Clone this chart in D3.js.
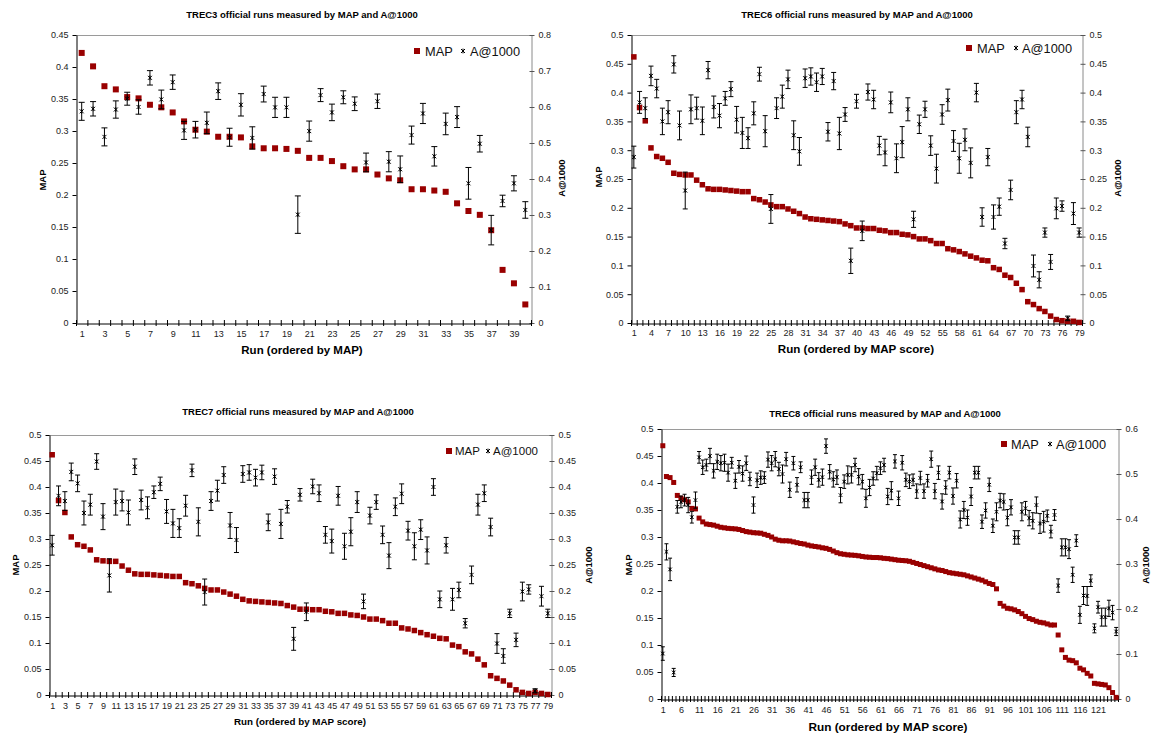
<!DOCTYPE html>
<html><head><meta charset="utf-8">
<script src="https://cdn.jsdelivr.net/npm/d3@7"></script>
<style>body{margin:0;background:#fff}svg{display:block;font-family:Arial,"Liberation Sans",sans-serif}</style>
</head><body>
<svg id="chart" width="1154" height="737"></svg>
<script>
// ---------------- DATA ----------------
// TREC3 (40 runs)
const trec3Map = [0.422,0.401,0.370,0.365,0.353,0.351,0.341,0.337,0.329,0.315,0.302,0.299,0.291,0.291,0.290,0.276,0.273,0.273,0.272,0.269,0.258,0.258,0.253,0.245,0.240,0.240,0.232,0.226,0.223,0.209,0.209,0.207,0.205,0.187,0.175,0.169,0.145,0.083,0.062,0.029];
const trec3Acc = [0.588,0.595,0.517,0.593,0.623,0.600,0.681,0.621,0.669,0.535,0.537,0.556,0.644,0.516,0.606,0.514,0.636,0.599,0.599,0.301,0.533,0.633,0.585,0.627,0.609,0.446,0.616,0.448,0.427,0.522,0.582,0.463,0.553,0.572,0.388,0.498,0.258,0.339,0.388,0.314];
const trec3Err = [0.025,0.020,0.025,0.024,0.018,0.020,0.020,0.026,0.020,0.025,0.023,0.030,0.023,0.025,0.031,0.031,0.022,0.028,0.028,0.052,0.028,0.018,0.023,0.018,0.019,0.026,0.020,0.028,0.037,0.025,0.028,0.027,0.030,0.029,0.044,0.023,0.041,0.016,0.021,0.023];
const trec3MapTicks = [0,0.05,0.1,0.15,0.2,0.25,0.3,0.35,0.4,0.45];
const trec3AccTicks = [0,0.1,0.2,0.3,0.4,0.5,0.6,0.7,0.8];
const trec3RunLabels = [1,3,5,7,9,11,13,15,17,19,21,23,25,27,29,31,33,35,37,39];

// TREC6 (79 runs)
const trec6Map = [0.462,0.374,0.351,0.304,0.289,0.286,0.279,0.260,0.258,0.257,0.257,0.248,0.240,0.233,0.232,0.232,0.231,0.230,0.229,0.228,0.228,0.216,0.214,0.210,0.205,0.202,0.202,0.198,0.194,0.190,0.184,0.181,0.180,0.179,0.178,0.177,0.176,0.172,0.169,0.165,0.165,0.164,0.164,0.161,0.160,0.157,0.157,0.154,0.153,0.150,0.146,0.146,0.143,0.138,0.138,0.129,0.127,0.124,0.120,0.116,0.113,0.109,0.108,0.096,0.093,0.083,0.079,0.069,0.058,0.037,0.032,0.025,0.020,0.012,0.006,0.004,0.003,0.003,0.001];
const trec6Acc = [0.288,0.383,0.373,0.429,0.407,0.350,0.366,0.449,0.343,0.230,0.371,0.373,0.351,0.439,0.375,0.360,0.390,0.406,0.353,0.330,0.321,0.364,0.432,0.333,0.198,0.373,0.393,0.423,0.326,0.298,0.425,0.428,0.418,0.428,0.332,0.420,0.329,0.362,0.108,0.385,0.160,0.401,0.388,0.308,0.296,0.383,0.286,0.314,0.371,0.180,0.345,0.371,0.308,0.268,0.362,0.387,0.316,0.286,0.318,0.278,0.400,0.184,0.288,0.184,0.202,0.138,0.231,0.366,0.388,0.323,0.099,0.075,0.157,0.106,0.199,0.203,0.008,0.190,0.157];
const trec6Err = [0.019,0.019,0.018,0.017,0.016,0.023,0.020,0.015,0.025,0.032,0.025,0.019,0.024,0.015,0.019,0.021,0.012,0.013,0.023,0.027,0.018,0.020,0.012,0.027,0.025,0.018,0.020,0.016,0.025,0.024,0.016,0.015,0.016,0.014,0.016,0.015,0.028,0.012,0.022,0.012,0.017,0.014,0.016,0.016,0.023,0.018,0.025,0.027,0.020,0.014,0.016,0.014,0.017,0.025,0.017,0.019,0.018,0.026,0.019,0.026,0.016,0.016,0.015,0.021,0.015,0.009,0.017,0.020,0.016,0.017,0.019,0.014,0.008,0.013,0.018,0.009,0.004,0.019,0.008];
const trec6MapTicks = [0,0.05,0.1,0.15,0.2,0.25,0.3,0.35,0.4,0.45,0.5];
const trec6AccTicks = [0,0.05,0.1,0.15,0.2,0.25,0.3,0.35,0.4,0.45,0.5];
const trec6RunLabels = [1,4,7,10,13,16,19,22,25,28,31,34,37,40,43,46,49,52,55,58,61,64,67,70,73,76,79];

// TREC7 (79 runs)
const trec7Map = [0.462,0.374,0.351,0.304,0.289,0.286,0.279,0.260,0.258,0.257,0.257,0.248,0.240,0.233,0.232,0.232,0.231,0.230,0.229,0.228,0.228,0.216,0.214,0.210,0.205,0.202,0.202,0.198,0.194,0.190,0.184,0.181,0.180,0.179,0.178,0.177,0.176,0.172,0.169,0.165,0.165,0.164,0.164,0.161,0.160,0.157,0.157,0.154,0.153,0.150,0.146,0.146,0.143,0.138,0.138,0.129,0.127,0.124,0.120,0.116,0.113,0.109,0.108,0.096,0.093,0.083,0.079,0.069,0.058,0.037,0.032,0.027,0.019,0.010,0.005,0.003,0.005,0.003,0.001];
const trec7Acc = [0.288,0.383,0.373,0.429,0.407,0.350,0.366,0.449,0.343,0.230,0.371,0.373,0.351,0.439,0.375,0.360,0.390,0.406,0.353,0.330,0.321,0.364,0.432,0.333,0.198,0.373,0.393,0.423,0.326,0.298,0.425,0.428,0.418,0.428,0.332,0.420,0.329,0.362,0.108,0.385,0.160,0.401,0.388,0.308,0.296,0.383,0.286,0.314,0.371,0.180,0.345,0.371,0.308,0.268,0.362,0.387,0.316,0.286,0.318,0.278,0.400,0.184,0.288,0.184,0.202,0.138,0.231,0.366,0.388,0.323,0.099,0.075,0.157,0.106,0.199,0.203,0.008,0.190,0.157];
const trec7Err = [0.019,0.019,0.018,0.017,0.016,0.023,0.020,0.015,0.025,0.032,0.025,0.019,0.024,0.015,0.019,0.021,0.012,0.013,0.023,0.027,0.018,0.020,0.012,0.027,0.025,0.018,0.020,0.016,0.025,0.024,0.016,0.015,0.016,0.014,0.016,0.015,0.028,0.012,0.022,0.012,0.017,0.014,0.016,0.016,0.023,0.018,0.025,0.027,0.020,0.014,0.016,0.014,0.017,0.025,0.017,0.019,0.018,0.026,0.019,0.026,0.016,0.016,0.015,0.021,0.015,0.009,0.017,0.020,0.016,0.017,0.019,0.014,0.008,0.013,0.018,0.009,0.004,0.019,0.008];
const trec7MapTicks = [0,0.05,0.1,0.15,0.2,0.25,0.3,0.35,0.4,0.45,0.5];
const trec7AccTicks = [0,0.05,0.1,0.15,0.2,0.25,0.3,0.35,0.4,0.45,0.5];
const trec7RunLabels = [1,3,5,7,9,11,13,15,17,19,21,23,25,27,29,31,33,35,37,39,41,43,45,47,49,51,53,55,57,59,61,63,65,67,69,71,73,75,77,79];

// TREC8 (126 runs)
const trec8Map = [0.469,0.412,0.410,0.401,0.377,0.372,0.369,0.365,0.353,0.352,0.335,0.328,0.324,0.323,0.322,0.320,0.318,0.317,0.316,0.3155,0.315,0.314,0.312,0.310,0.309,0.308,0.3075,0.307,0.305,0.303,0.300,0.296,0.294,0.293,0.293,0.2925,0.291,0.2895,0.288,0.287,0.285,0.2835,0.2825,0.2815,0.280,0.279,0.277,0.274,0.271,0.269,0.268,0.267,0.2665,0.266,0.2652,0.264,0.263,0.2625,0.262,0.262,0.2615,0.2605,0.260,0.259,0.258,0.257,0.2565,0.256,0.255,0.253,0.251,0.249,0.247,0.245,0.243,0.241,0.239,0.238,0.236,0.234,0.233,0.232,0.231,0.230,0.228,0.226,0.224,0.222,0.220,0.217,0.214,0.212,0.204,0.177,0.172,0.168,0.167,0.165,0.162,0.158,0.153,0.149,0.147,0.144,0.142,0.141,0.139,0.137,0.137,0.1185,0.091,0.077,0.072,0.071,0.067,0.057,0.054,0.0475,0.0426,0.029,0.028,0.027,0.026,0.021,0.012,0.003];
const trec8Acc = [0.101,0.327,0.288,0.059,0.427,0.438,0.442,0.431,0.404,0.442,0.537,0.515,0.520,0.540,0.507,0.527,0.524,0.525,0.503,0.525,0.485,0.516,0.501,0.524,0.489,0.431,0.486,0.492,0.492,0.532,0.524,0.533,0.511,0.500,0.533,0.465,0.524,0.476,0.515,0.442,0.442,0.493,0.515,0.487,0.493,0.562,0.505,0.488,0.493,0.453,0.483,0.498,0.498,0.520,0.494,0.483,0.446,0.470,0.490,0.502,0.513,0.520,0.450,0.463,0.528,0.446,0.525,0.487,0.483,0.487,0.462,0.491,0.462,0.485,0.533,0.462,0.503,0.439,0.470,0.503,0.451,0.485,0.399,0.420,0.403,0.450,0.503,0.503,0.394,0.419,0.476,0.385,0.416,0.441,0.438,0.403,0.426,0.359,0.359,0.416,0.424,0.402,0.396,0.431,0.390,0.394,0.407,0.372,0.409,0.252,0.337,0.337,0.333,0.276,0.352,0.187,0.230,0.229,0.263,0.157,0.204,0.182,0.182,0.2015,0.192,0.150];
const trec8Err = [0.015,0.018,0.025,0.009,0.014,0.013,0.013,0.017,0.013,0.018,0.013,0.016,0.013,0.017,0.016,0.017,0.017,0.019,0.019,0.012,0.017,0.014,0.017,0.016,0.015,0.018,0.016,0.015,0.013,0.017,0.017,0.017,0.015,0.020,0.015,0.017,0.015,0.016,0.012,0.017,0.017,0.016,0.018,0.016,0.018,0.016,0.016,0.017,0.016,0.017,0.015,0.020,0.018,0.015,0.018,0.016,0.020,0.018,0.015,0.015,0.014,0.015,0.018,0.020,0.015,0.016,0.016,0.015,0.015,0.013,0.016,0.015,0.016,0.014,0.018,0.017,0.015,0.017,0.015,0.014,0.018,0.016,0.019,0.019,0.017,0.020,0.014,0.014,0.015,0.017,0.015,0.015,0.020,0.016,0.018,0.018,0.017,0.015,0.015,0.020,0.015,0.017,0.018,0.018,0.022,0.023,0.013,0.014,0.012,0.015,0.019,0.019,0.021,0.017,0.013,0.019,0.020,0.021,0.013,0.010,0.013,0.020,0.020,0.018,0.016,0.009];
const trec8MapTicks = [0,0.05,0.1,0.15,0.2,0.25,0.3,0.35,0.4,0.45,0.5];
const trec8AccTicks = [0,0.1,0.2,0.3,0.4,0.5,0.6];
const trec8RunLabels = [1,6,11,16,21,26,31,36,41,46,51,56,61,66,71,76,81,86,91,96,101,106,111,116,121];

// ---------------- DRAWING ----------------
const FONT = 'Arial, "Liberation Sans", sans-serif';
const RED = '#990000';
const svg = d3.select('#chart');
const fmt = d3.format('~g');

function star(s) {
  return `M${-s},${-s}L${s},${s}M${-s},${s}L${s},${-s}M0,${-s*1.2}L0,${s*1.2}`;
}

function drawPanel(c) {
  const g = svg.append('g');
  const n = c.map.length;
  const x = d3.scaleLinear().domain([0.5, n + 0.5]).range([c.left, c.right]);
  const yL = d3.scaleLinear().domain([0, c.mapMax]).range([c.bottom, c.top]);
  const yR = d3.scaleLinear().domain([0, c.accMax]).range([c.bottom, c.top]);

  // top border
  g.append('line').attr('x1', c.left).attr('x2', c.right).attr('y1', c.top + 0.5).attr('y2', c.top + 0.5)
    .attr('stroke', '#9a9a9a').attr('stroke-width', 1);

  // right axis
  const ra = g.append('g').attr('transform', `translate(${c.right + 0.5},0)`)
    .call(d3.axisRight(yR).tickValues(c.accTicks).tickSize(3).tickSizeOuter(0).tickPadding(4).tickFormat(fmt));
  ra.attr('font-family', FONT).attr('font-size', c.tickFont);
  ra.select('.domain').attr('stroke', '#8a8a8a');
  ra.selectAll('.tick line').attr('x1', -2).attr('stroke', '#555');
  ra.selectAll('.tick text').attr('fill', '#222');

  // left axis
  const la = g.append('g').attr('transform', `translate(${c.left + 0.5},0)`)
    .call(d3.axisLeft(yL).tickValues(c.mapTicks).tickSize(4).tickSizeOuter(0).tickPadding(4).tickFormat(fmt));
  la.attr('font-family', FONT).attr('font-size', c.tickFont);
  la.select('.domain').attr('stroke', '#000');
  la.selectAll('.tick line').attr('stroke', '#000');
  la.selectAll('.tick text').attr('fill', '#222');

  // bottom axis: cross tick marks between categories
  const bounds = d3.range(0, n + 1).map(k => k + 0.5);
  const bt = g.append('g').attr('transform', `translate(0,${c.bottom - 3})`)
    .call(d3.axisBottom(x).tickValues(bounds).tickSize(6).tickSizeOuter(0).tickFormat(''));
  bt.select('.domain').remove();
  bt.selectAll('.tick line').attr('stroke', '#000');
  const bl = g.append('g').attr('transform', `translate(0,${c.bottom + 0.5})`)
    .call(d3.axisBottom(x).tickValues(c.labels).tickSize(0).tickSizeOuter(0).tickPadding(c.xPad).tickFormat(d3.format('d')));
  bl.attr('font-family', FONT).attr('font-size', c.tickFont);
  bl.select('.domain').attr('stroke', '#000');
  bl.selectAll('.tick text').attr('fill', '#222');

  // MAP squares
  const s = c.sq;
  g.append('g').selectAll('rect').data(c.map).join('rect')
    .attr('x', (d, i) => x(i + 1) - s / 2).attr('y', d => yL(d) - s / 2)
    .attr('width', s).attr('height', s).attr('fill', RED);

  // A@1000 error bars + markers
  const eg = g.append('g').attr('stroke', '#000').attr('fill', 'none').attr('stroke-width', 1);
  const cw = c.cap;
  const pts = c.acc.map((d, i) => ({i: i + 1, v: d, e: c.err[i]}));
  eg.selectAll('path.eb').data(pts).join('path').attr('class', 'eb')
    .attr('d', p => {
      const cx = x(p.i), y1 = yR(p.v + p.e), y2 = yR(p.v - p.e);
      return `M${cx},${y1}L${cx},${y2}M${cx - cw / 2},${y1}L${cx + cw / 2},${y1}M${cx - cw / 2},${y2}L${cx + cw / 2},${y2}`;
    });
  eg.selectAll('path.st').data(pts).join('path').attr('class', 'st')
    .attr('transform', p => `translate(${x(p.i)},${yR(p.v)})`).attr('d', star(c.star));

  // Titles
  g.append('text').attr('x', c.title[0]).attr('y', c.title[1]).attr('text-anchor', 'middle')
    .attr('font-family', FONT).attr('font-weight', 'bold').attr('font-size', c.titleFont).text(c.titleText);
  g.append('text').attr('x', c.xTitle[0]).attr('y', c.xTitle[1]).attr('text-anchor', 'middle')
    .attr('font-family', FONT).attr('font-weight', 'bold').attr('font-size', c.xTitleFont).text(c.xTitleText);
  g.append('text').attr('transform', `translate(${c.yTitleL[0]},${c.yTitleL[1]}) rotate(-90)`)
    .attr('text-anchor', 'middle').attr('dominant-baseline', 'central')
    .attr('font-family', FONT).attr('font-weight', 'bold').attr('font-size', c.yTitleFont).text('MAP');
  g.append('text').attr('transform', `translate(${c.yTitleR[0]},${c.yTitleR[1]}) rotate(-90)`)
    .attr('text-anchor', 'middle').attr('dominant-baseline', 'central')
    .attr('font-family', FONT).attr('font-weight', 'bold').attr('font-size', c.yTitleFont).text('A@1000');

  // Legend
  const L = c.legend;
  const lg = g.append('g').attr('font-family', FONT).attr('font-size', L.font);
  lg.append('rect').attr('x', L.sq - 3).attr('y', L.y - 3).attr('width', 6).attr('height', 6).attr('fill', RED);
  lg.append('text').attr('x', L.mapX).attr('y', L.y).attr('dominant-baseline', 'central').attr('fill', '#111').text('MAP');
  lg.append('path').attr('transform', `translate(${L.st},${L.y})`).attr('d', star(2)).attr('stroke', '#000').attr('fill', 'none');
  lg.append('text').attr('x', L.accX).attr('y', L.y).attr('dominant-baseline', 'central').attr('fill', '#111').text('A@1000');
}

drawPanel({
  map: trec3Map, acc: trec3Acc, err: trec3Err, mapMax: 0.45, accMax: 0.8,
  mapTicks: trec3MapTicks, accTicks: trec3AccTicks, labels: trec3RunLabels,
  left: 76, right: 531, top: 35, bottom: 323, tickFont: 9, xPad: 7,
  sq: 6, cap: 6, star: 2,
  title: [302, 18], titleText: 'TREC3 official runs measured by MAP and A@1000', titleFont: 9.5,
  xTitle: [302, 354], xTitleText: 'Run (ordered by MAP)', xTitleFont: 11.5,
  yTitleL: [42, 180], yTitleR: [561, 178], yTitleFont: 9.5,
  legend: {sq: 417, mapX: 425, st: 463, accX: 470, y: 51, font: 12.8}
});
drawPanel({
  map: trec6Map, acc: trec6Acc, err: trec6Err, mapMax: 0.5, accMax: 0.5,
  mapTicks: trec6MapTicks, accTicks: trec6AccTicks, labels: trec6RunLabels,
  left: 631, right: 1082, top: 35, bottom: 323, tickFont: 9, xPad: 6,
  sq: 5.5, cap: 5, star: 2,
  title: [857, 18], titleText: 'TREC6 official runs measured by MAP and A@1000', titleFont: 9.5,
  xTitle: [856, 353], xTitleText: 'Run (ordered by MAP score)', xTitleFont: 11.6,
  yTitleL: [598, 177], yTitleR: [1117, 178], yTitleFont: 9.5,
  legend: {sq: 969, mapX: 977, st: 1016, accX: 1022, y: 48, font: 12.8}
});
drawPanel({
  map: trec7Map, acc: trec7Acc, err: trec7Err, mapMax: 0.5, accMax: 0.5,
  mapTicks: trec7MapTicks, accTicks: trec7AccTicks, labels: trec7RunLabels,
  left: 49, right: 551, top: 435, bottom: 695, tickFont: 9, xPad: 7,
  sq: 5.5, cap: 5, star: 2,
  title: [298, 415], titleText: 'TREC7 official runs measured by MAP and A@1000', titleFont: 9.5,
  xTitle: [300, 725], xTitleText: 'Run (ordered by MAP score)', xTitleFont: 9.8,
  yTitleL: [15, 565], yTitleR: [588, 565], yTitleFont: 9.5,
  legend: {sq: 449, mapX: 455, st: 488, accX: 493, y: 451, font: 11.5}
});
drawPanel({
  map: trec8Map, acc: trec8Acc, err: trec8Err, mapMax: 0.5, accMax: 0.6,
  mapTicks: trec8MapTicks, accTicks: trec8AccTicks, labels: trec8RunLabels,
  left: 661, right: 1118, top: 429, bottom: 699, tickFont: 9, xPad: 7,
  sq: 5, cap: 4, star: 1.8,
  title: [885, 417], titleText: 'TREC8 official runs measured by MAP and A@1000', titleFont: 9.5,
  xTitle: [888, 731], xTitleText: 'Run (ordered by MAP score)', xTitleFont: 11.8,
  yTitleL: [628, 565], yTitleR: [1145, 565], yTitleFont: 9.5,
  legend: {sq: 1004, mapX: 1011, st: 1050, accX: 1056, y: 444, font: 12.8}
});
</script>
</body></html>
